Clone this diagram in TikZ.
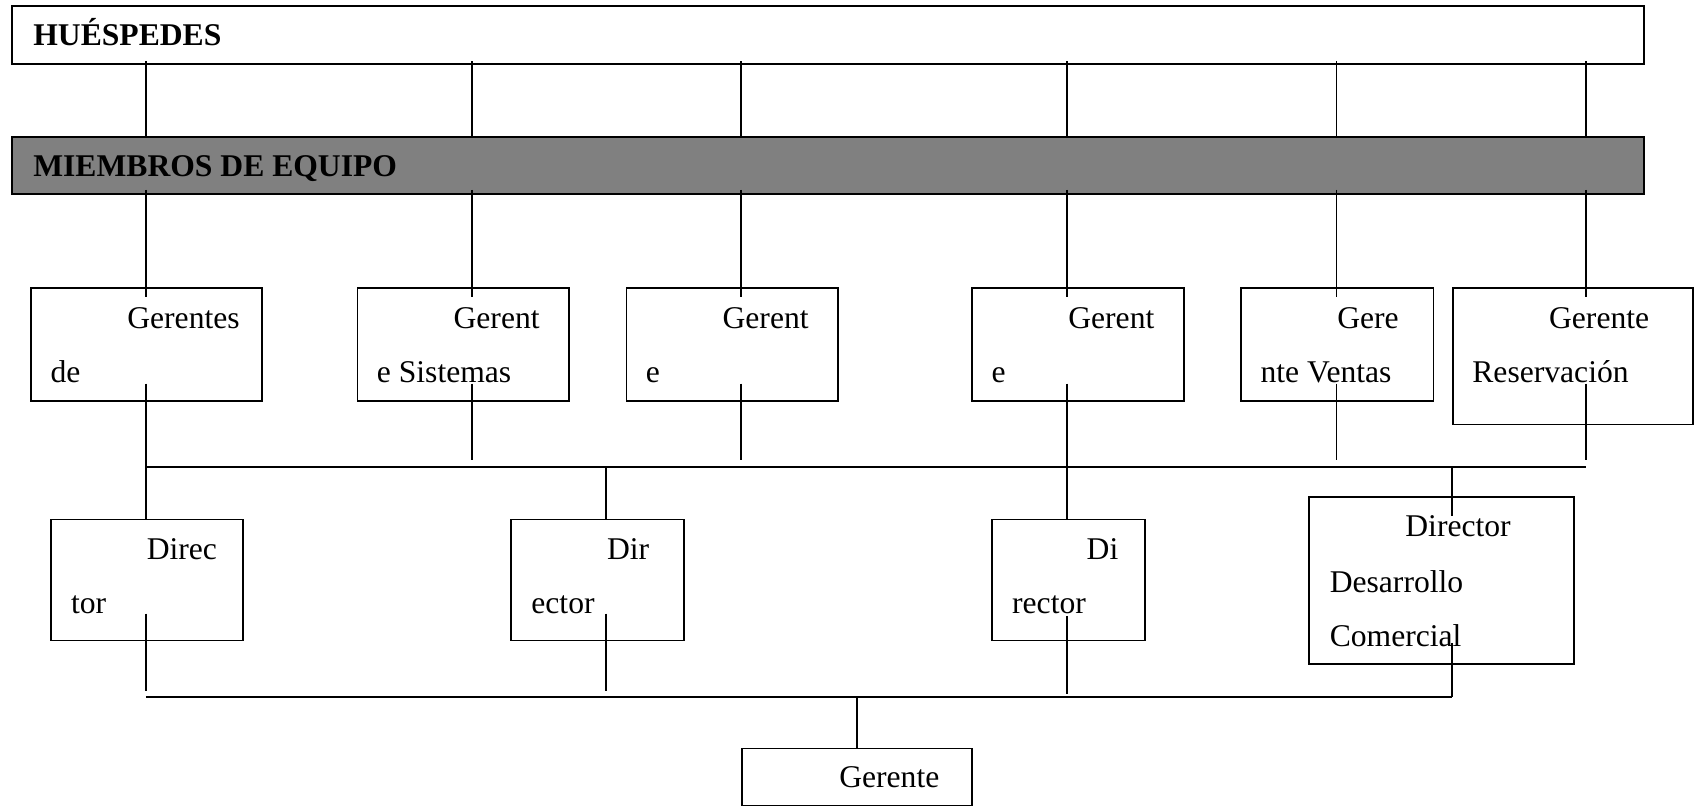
\documentclass[tikz,border=0pt]{standalone}
\usepackage{fontspec}
\setmainfont{Liberation Serif}
\usetikzlibrary{calc}
\definecolor{bargray}{HTML}{808080}

\begin{document}
\begin{tikzpicture}[x=0.41pt, y=-0.41pt, line width=0.7pt,
    box/.style 2 args={draw, anchor=north west, inner sep=0pt,
      minimum width={#1*0.41pt}, minimum height={#2*0.41pt}},
    txt/.style={anchor=base west, inner sep=0pt, font=\fontsize{12}{14}\selectfont},
    head/.style={txt, font=\fontsize{12}{14}\selectfont\bfseries}]
  \useasboundingbox (0,0) rectangle (1568,746);

  % ---------------- columns and buses ----------------
  \coordinate (x1) at (135,0);
  \coordinate (x2) at (437,0);
  \coordinate (x3) at (686,0);
  \coordinate (x4) at (988,0);
  \coordinate (x5) at (1237,0);
  \coordinate (x6) at (1468,0);
  \coordinate (k2) at (561,0);
  \coordinate (k4) at (1344,0);
  \coordinate (busA) at (0,432);
  \coordinate (busB) at (0,645);

  % ---------------- top bars ----------------
  \node[box={1511}{53}] (hue) at (10,5) {};
  \node[head] (huet) at ($(hue.north west)+(20,37)$) {HUÉSPEDES};
  \node[box={1511}{53}, fill=bargray] (mie) at (10,126) {};
  \node[head] (miet) at ($(mie.north west)+(20,37)$) {MIEMBROS DE EQUIPO};

  % ---------------- managers ----------------
  \node[box={214}{104}] (g1) at (28,266) {};
  \node[box={196}{104}] (g2) at (330,266) {};
  \node[box={196}{104}] (g3) at (579,266) {};
  \node[box={196}{104}] (g4) at (899,266) {};
  \node[box={178}{104}] (g5) at (1148,266) {};
  \node[box={222}{126}] (g6) at (1344,266) {};
  \node[txt] (g1a) at ($(g1.north west)+(89,38)$) {Gerentes};
  \node[txt] (g1b) at ($(g1.north west)+(18,88)$) {de};
  \node[txt] (g2a) at ($(g2.north west)+(89,38)$) {Gerent};
  \node[txt] (g2b) at ($(g2.north west)+(18,88)$) {e Sistemas};
  \node[txt] (g3a) at ($(g3.north west)+(89,38)$) {Gerent};
  \node[txt] (g3b) at ($(g3.north west)+(18,88)$) {e};
  \node[txt] (g4a) at ($(g4.north west)+(89,38)$) {Gerent};
  \node[txt] (g4b) at ($(g4.north west)+(18,88)$) {e};
  \node[txt] (g5a) at ($(g5.north west)+(89,38)$) {Gere};
  \node[txt] (g5b) at ($(g5.north west)+(18,88)$) {nte Ventas};
  \node[txt] (g6a) at ($(g6.north west)+(89,38)$) {Gerente};
  \node[txt] (g6b) at ($(g6.north west)+(18,88)$) {Reservación};

  % ---------------- directors ----------------
  \node[box={178}{112}] (d1) at (46,480) {};
  \node[box={160}{112}] (d2) at (472,480) {};
  \node[box={142}{112}] (d3) at (917,480) {};
  \node[box={245}{155}] (d4) at (1211,459) {};
  \node[txt] (d1a) at ($(d1.north west)+(89,38)$) {Direc};
  \node[txt] (d1b) at ($(d1.north west)+(19,88)$) {tor};
  \node[txt] (d2a) at ($(d2.north west)+(89,38)$) {Dir};
  \node[txt] (d2b) at ($(d2.north west)+(19,88)$) {ector};
  \node[txt] (d3a) at ($(d3.north west)+(88,38)$) {Di};
  \node[txt] (d3b) at ($(d3.north west)+(19,88)$) {rector};
  \node[txt] (d4a) at ($(d4.north west)+(89,38)$) {Director};
  \node[txt] (d4b) at ($(d4.north west)+(19,89)$) {Desarrollo};
  \node[txt] (d4c) at ($(d4.north west)+(19,139)$) {Comercial};

  % ---------------- general manager ----------------
  \node[box={213}{53}] (ger) at (686,692) {};
  \node[txt] (gert) at ($(ger.north west)+(90,37)$) {Gerente};

  % ---------------- connectors ----------------
  \foreach \c in {1,...,6}
    \draw ($(hue.south -| x\c)+(0,-3)$) -- (mie.north -| x\c);
  \draw ($(mie.south -| x1)+(0,-5)$) -- ($(g1.north -| x1)+(0,9)$);
  \draw ($(mie.south -| x2)+(0,-5)$) -- ($(g2.north -| x2)+(0,9)$);
  \draw ($(mie.south -| x3)+(0,-5)$) -- ($(g3.north -| x3)+(0,9)$);
  \draw ($(mie.south -| x4)+(0,-5)$) -- ($(g4.north -| x4)+(0,9)$);
  \draw ($(mie.south -| x5)+(0,-5)$) -- ($(g5.north -| x5)+(0,9)$);
  \draw ($(mie.south -| x6)+(0,-5)$) -- ($(g6.north -| x6)+(0,9)$);

  \draw ($(g1.north -| x1)+(0,89)$) -- (d1.north -| x1);
  \draw ($(g2.north -| x2)+(0,89)$) -- ($(busA -| x2)+(0,-6)$);
  \draw ($(g3.north -| x3)+(0,89)$) -- ($(busA -| x3)+(0,-6)$);
  \draw ($(g4.north -| x4)+(0,89)$) -- (d3.north -| x4);
  \draw ($(g5.north -| x5)+(0,89)$) -- ($(busA -| x5)+(0,-6)$);
  \draw ($(g6.north -| x6)+(0,89)$) -- ($(busA -| x6)+(0,-6)$);
  \draw (busA -| x1) -- (busA -| x6);
  \draw (busA -| k2) -- (d2.north -| k2);
  \draw (busA -| k4) -- ($(d4.north -| k4)+(0,19)$);

  \draw ($(d1.north -| x1)+(0,88)$) -- ($(busB -| x1)+(0,-5)$);
  \draw ($(d2.north -| k2)+(0,88)$) -- ($(busB -| k2)+(0,-5)$);
  \draw ($(d3.north -| x4)+(0,90)$) -- ($(busB -| x4)+(0,-3)$);
  \draw ($(d4.north -| k4)+(0,136)$) -- (busB -| k4);
  \draw (busB -| x1) -- (busB -| k4);
  \draw (busB -| ger.north) -- (ger.north);
\end{tikzpicture}
\end{document}
